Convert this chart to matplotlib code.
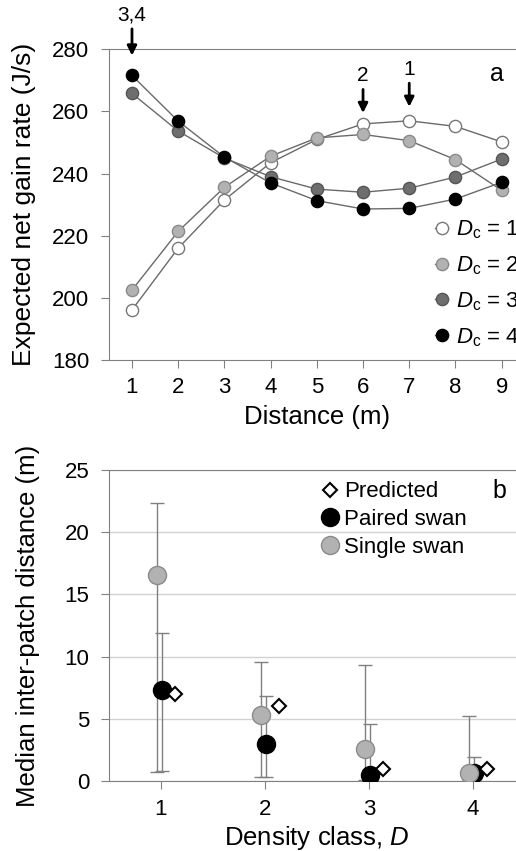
import numpy as np
import matplotlib
matplotlib.use('Agg')
import matplotlib.pyplot as plt

plt.rcParams['font.family'] = ['Liberation Sans', 'DejaVu Sans']
plt.rcParams['mathtext.fontset'] = 'custom'
plt.rcParams['mathtext.rm'] = 'Liberation Sans'
plt.rcParams['mathtext.it'] = 'Liberation Sans:italic'

# panel a: expected net gain rate vs distance
distance = [1, 2, 3, 4, 5, 6, 7, 8, 9]
gain_dc1 = [196.1, 216.0, 231.5, 243.5, 251.0, 256.0, 257.0, 255.2, 250.2]
gain_dc2 = [202.5, 221.4, 235.6, 245.6, 251.5, 252.6, 250.6, 244.5, 234.6]
gain_dc3 = [265.8, 253.7, 245.0, 239.0, 235.0, 234.0, 235.3, 238.9, 244.7]
gain_dc4 = [271.6, 256.9, 245.3, 237.0, 231.3, 228.6, 228.8, 231.8, 237.2]
optimum_labels = ['3,4', '2', '1']
optimum_x = [1, 6, 7]

# panel b: median inter-patch distance by density class
density = np.array([1, 2, 3, 4])
predicted = [7.0, 6.0, 1.0, 1.0]
paired = [7.3, 3.0, 0.5, 0.6]
paired_lo = [0.8, 0.35, 0.1, 0.1]
paired_hi = [11.9, 6.85, 4.55, 1.95]
single = [16.55, 5.3, 2.55, 0.65]
single_lo = [0.75, 0.35, 0.1, 0.1]
single_hi = [22.35, 9.55, 9.3, 5.2]

fig = plt.figure(figsize=(5.16, 8.51), dpi=100)
spine_col = '#808080'

# ---------- panel a ----------
ax1 = fig.add_axes([0.211, 0.577, 0.806, 0.365])
series = [(gain_dc1, 'white', '#777777'), (gain_dc2, '#b2b2b2', '#8a8a8a'),
          (gain_dc3, '#6e6e6e', '#555555'), (gain_dc4, 'black', 'black')]
for i, (vals, fc, ec) in enumerate(series):
    ax1.plot(distance, vals, color='#6a6a6a', lw=1.0, marker='o', ms=8.8,
             mfc=fc, mec=ec, mew=1.0, label=r'$D_{\mathrm{c}}$ = %d' % (i + 1))
ax1.set_xlim(0.5, 9.5)
ax1.set_ylim(180, 280)
ax1.set_xticks(distance)
ax1.set_yticks(range(180, 281, 20))
ax1.set_xlabel('Distance (m)', fontsize=18.5, labelpad=5)
ax1.set_ylabel('Expected net gain rate (J/s)', fontsize=19, labelpad=12)
ax1.tick_params(labelsize=16, color=spine_col, length=6)
ax1.tick_params(axis='y', pad=8)
ax1.tick_params(axis='x', pad=6)
for s in ['left', 'bottom', 'top']:
    ax1.spines[s].set_color(spine_col)
ax1.spines['right'].set_visible(False)

text_y = [291, 271.5, 273.5]
tip_y = [278, 259.5, 261.5]
for lab, x, ty, py in zip(optimum_labels, optimum_x, text_y, tip_y):
    ax1.annotate(lab, xy=(x, py), xytext=(x, ty), ha='center', va='center',
                 fontsize=15, annotation_clip=False,
                 arrowprops=dict(arrowstyle='-|>', color='black', lw=2.0,
                                 mutation_scale=14, shrinkA=1, shrinkB=0))
ax1.text(8.9, 272, 'a', fontsize=18, ha='center', va='center')
ax1.legend(loc='center left', bbox_to_anchor=(0.784, 0.246), frameon=False,
           fontsize=16, handlelength=0.6, handletextpad=0.35, labelspacing=0.6,
           borderaxespad=0, borderpad=0)

# ---------- panel b ----------
ax2 = fig.add_axes([0.211, 0.0823, 0.806, 0.3654])
ax2.yaxis.grid(True, color='#d2d2d2', lw=1.0)
ax2.set_axisbelow(True)
err_p = [np.array(paired) - np.array(paired_lo), np.array(paired_hi) - np.array(paired)]
err_s = [np.array(single) - np.array(single_lo), np.array(single_hi) - np.array(single)]
ax2.errorbar(density + 0.01, paired, yerr=err_p, fmt='none', ecolor=spine_col,
             elinewidth=1.0, capsize=5, capthick=1.0, zorder=2)
ax2.errorbar(density - 0.04, single, yerr=err_s, fmt='none', ecolor=spine_col,
             elinewidth=1.0, capsize=5, capthick=1.0, zorder=2)
ax2.plot(density + 0.14, predicted, 'D', ms=7.5, mfc='white', mec='black', mew=1.5,
         label='Predicted', zorder=4)
ax2.plot(density + 0.01, paired, 'o', ms=13, mfc='black', mec='black',
         label='Paired swan', zorder=3)
ax2.plot(density - 0.04, single, 'o', ms=13, mfc='#b2b2b2', mec='#8a8a8a', mew=1.0,
         label='Single swan', zorder=3)
ax2.set_xlim(0.5, 4.5)
ax2.set_ylim(0, 25)
ax2.set_xticks(density)
ax2.set_yticks(range(0, 26, 5))
ax2.set_xlabel('Density class, $\\mathit{D}$', fontsize=18.5, labelpad=3)
ax2.set_ylabel('Median inter-patch distance (m)', fontsize=18.5, labelpad=18)
ax2.tick_params(labelsize=16, color=spine_col, length=6)
ax2.tick_params(axis='y', pad=8)
ax2.tick_params(axis='x', pad=7)
for s in ['left', 'bottom', 'top']:
    ax2.spines[s].set_color(spine_col)
ax2.spines['right'].set_visible(False)
ax2.text(4.26, 23.3, 'b', fontsize=18, ha='center', va='center')
ax2.legend(loc='center left', bbox_to_anchor=(0.512, 0.841), frameon=False,
           fontsize=16, handlelength=0.7, handletextpad=0.3, labelspacing=0.3,
           borderaxespad=0, borderpad=0)

fig.savefig('out.png', dpi=100)
